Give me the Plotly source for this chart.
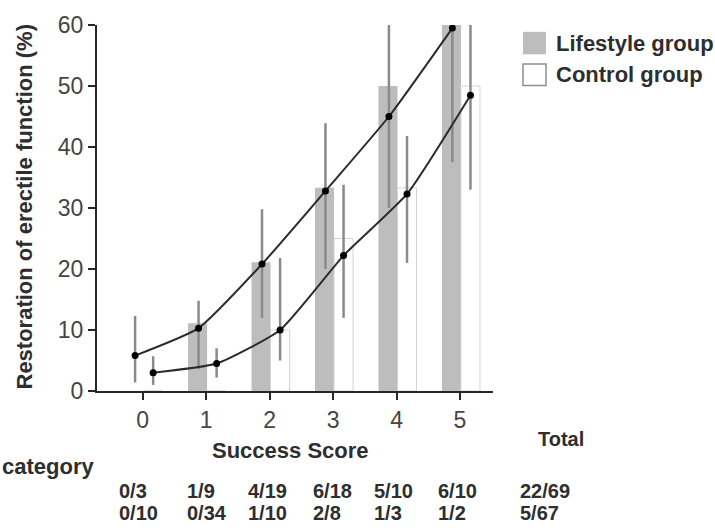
import plotly.graph_objects as go

# ---------------- data ----------------
categories = [0, 1, 2, 3, 4, 5]
tick_labels = ["0", "1", "2", "3", "4", "5"]

lifestyle_bar = [0, 11.1, 21.1, 33.3, 50.0, 60.0]
control_bar = [0, 0, 10.0, 25.0, 33.3, 50.0]

lifestyle_fit = [5.8, 10.3, 20.8, 32.8, 45.0, 59.5]
lifestyle_lo = [1.4, 3.6, 12.0, 20.0, 30.0, 37.5]
lifestyle_hi = [12.3, 14.8, 29.8, 43.9, 60.0, 60.0]

control_fit = [3.0, 4.5, 10.0, 22.2, 32.3, 48.5]
control_lo = [1.0, 2.2, 5.0, 12.0, 21.0, 33.0]
control_hi = [5.7, 7.0, 21.8, 33.8, 41.8, 60.0]

row_lifestyle = ["0/3", "1/9", "4/19", "6/18", "5/10", "6/10", "22/69"]
row_control = ["0/10", "0/34", "1/10", "2/8", "1/3", "1/2", "5/67"]

legend_names = ["Lifestyle group", "Control group"]

# ---------------- style ----------------
W, H = 715, 528
ML, MR, MT, MB = 97, 222, 16, 137
PW, PH = W - ML - MR, H - MT - MB
FONT = "Liberation Sans, Arial, sans-serif"
TXT = "#2e2e2e"
GRAY_BAR = "#bdbdbd"
ERR = "#8a8a8a"
LINE = "#2b2b2b"
AXIS = "#262626"

L_OFF, C_OFF = -0.135, 0.165
LP_OFF, CP_OFF = -0.12, 0.165
BAR_W = 0.30


def px(X):
    return (X - ML) / PW


def py(Y):
    return (H - MB - Y) / PH


fig = go.Figure()

fig.add_trace(go.Bar(
    x=[c + L_OFF for c in categories], y=lifestyle_bar, width=BAR_W,
    marker=dict(color=GRAY_BAR, line=dict(width=0)), name=legend_names[0],
    showlegend=False))
fig.add_trace(go.Bar(
    x=[c + C_OFF for c in categories], y=control_bar, width=BAR_W,
    marker=dict(color="white", line=dict(color="#d3d3d3", width=1)),
    name=legend_names[1], showlegend=False))

for fit, lo, hi, off in [(lifestyle_fit, lifestyle_lo, lifestyle_hi, LP_OFF),
                         (control_fit, control_lo, control_hi, CP_OFF)]:
    fig.add_trace(go.Scatter(
        x=[c + off for c in categories], y=fit, mode="lines+markers",
        line=dict(color=LINE, width=2, shape="spline", smoothing=0.5),
        marker=dict(color="black", size=7),
        error_y=dict(type="data", symmetric=False,
                     array=[h - f for h, f in zip(hi, fit)],
                     arrayminus=[f - l for f, l in zip(fit, lo)],
                     color=ERR, thickness=2.5, width=0),
        showlegend=False))

fig.update_layout(
    width=W, height=H, margin=dict(l=ML, r=MR, t=MT, b=MB),
    paper_bgcolor="white", plot_bgcolor="white",
    barmode="overlay",
    font=dict(family=FONT, color=TXT),
    xaxis=dict(range=[-0.72, 5.52], tickvals=categories, ticktext=tick_labels,
               showline=True, linecolor=AXIS, linewidth=2, ticks="outside",
               ticklen=7, tickwidth=2, tickcolor=AXIS, showgrid=False,
               zeroline=False, tickfont=dict(size=23, color="#454545")),
    yaxis=dict(range=[0, 60], dtick=10, showline=True, linecolor=AXIS,
               linewidth=2, ticks="outside", ticklen=7, tickwidth=2,
               tickcolor=AXIS, showgrid=False, zeroline=False,
               tickfont=dict(size=23, color="#454545")),
)

ann = []
# y-axis title
ann.append(dict(text="<b>Restoration of erectile function (%)</b>", textangle=-90,
                x=px(25), y=py(203), xref="paper", yref="paper",
                xanchor="center", yanchor="middle", showarrow=False,
                font=dict(size=22, color=TXT)))
# x title
ann.append(dict(text="<b>Success Score</b>", x=px(290), y=py(452),
                xref="paper", yref="paper", xanchor="center", yanchor="middle",
                showarrow=False, font=dict(size=22, color=TXT)))
ann.append(dict(text="<b>Total</b>", x=px(561), y=py(440),
                xref="paper", yref="paper", xanchor="center", yanchor="middle",
                showarrow=False, font=dict(size=20, color=TXT)))
ann.append(dict(text="<b>category</b>", x=px(0), y=py(468),
                xref="paper", yref="paper", xanchor="left", yanchor="middle",
                showarrow=False, font=dict(size=22, color=TXT)))
col_x = [117, 185, 246, 311, 372, 436, 518]
for i, (a, b) in enumerate(zip(row_lifestyle, row_control)):
    ann.append(dict(text="<b>%s</b>" % a, x=px(col_x[i]), y=py(493),
                    xref="paper", yref="paper", xanchor="left", yanchor="middle",
                    showarrow=False, font=dict(size=20, color=TXT)))
    ann.append(dict(text="<b>%s</b>" % b, x=px(col_x[i]), y=py(516),
                    xref="paper", yref="paper", xanchor="left", yanchor="middle",
                    showarrow=False, font=dict(size=20, color=TXT)))
# legend text
ann.append(dict(text="<b>%s</b>" % legend_names[0], x=px(554), y=py(35),
                xref="paper", yref="paper", xanchor="left", yanchor="middle",
                showarrow=False, font=dict(size=22, color=TXT)))
ann.append(dict(text="<b>%s</b>" % legend_names[1], x=px(554), y=py(67),
                xref="paper", yref="paper", xanchor="left", yanchor="middle",
                showarrow=False, font=dict(size=22, color=TXT)))
fig.update_layout(annotations=ann)

# legend swatches
fig.add_shape(type="rect", xref="paper", yref="paper",
              x0=px(523), x1=px(546), y0=py(46), y1=py(23),
              fillcolor=GRAY_BAR, line=dict(width=0))
fig.add_shape(type="rect", xref="paper", yref="paper",
              x0=px(523), x1=px(546), y0=py(78), y1=py(56),
              fillcolor="white", line=dict(color="#8f8f8f", width=1.5))

fig.write_html("out.html")
